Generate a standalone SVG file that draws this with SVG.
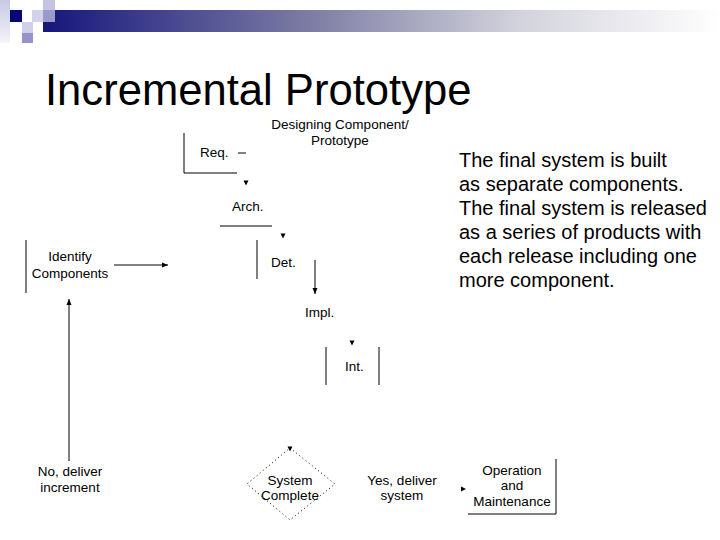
<svg xmlns="http://www.w3.org/2000/svg" width="720" height="540" viewBox="0 0 720 540">
  <defs>
    <linearGradient id="bar" x1="43" y1="0" x2="720" y2="0" gradientUnits="userSpaceOnUse">
      <stop offset="0" stop-color="#16167c"/>
      <stop offset="0.4" stop-color="#7e7ea4"/>
      <stop offset="0.7" stop-color="#d2d2dc"/>
      <stop offset="1" stop-color="#ffffff"/>
    </linearGradient>
    <linearGradient id="col" x1="0" y1="0" x2="0" y2="1">
      <stop offset="0" stop-color="#c8c8e4"/>
      <stop offset="1" stop-color="#f4f4fa"/>
    </linearGradient>
    <marker id="ah" viewBox="0 0 6 6" refX="6" refY="3" markerWidth="6" markerHeight="6" orient="auto" markerUnits="userSpaceOnUse">
      <path d="M0,0.5 L6,3 L0,5.5 Z" fill="#000"/>
    </marker>
    <path id="tri" d="M-2.5,-2.5 L2.5,-2.5 L0,2.5 Z" fill="#000"/>
  </defs>
  <style>
    .t{font-family:"Liberation Sans",Arial,sans-serif;font-size:13.5px;fill:#000}
    .c{text-anchor:middle}
    .ln{stroke:#000;stroke-width:1;fill:none}
    .body{font-family:"Liberation Sans",Arial,sans-serif;font-size:20px;fill:#000}
  </style>
  <rect width="720" height="540" fill="#fff"/>

  <g id="header">
    <rect x="0" y="0" width="10" height="43" fill="url(#col)"/>
    <rect x="43" y="10" width="677" height="22" fill="url(#bar)"/>
    <rect x="43" y="0" width="12" height="10" fill="#c4c4e2"/>
    <rect x="10" y="10" width="12" height="12" fill="#060676"/>
    <rect x="32" y="10" width="11" height="12" fill="#d2d2ec"/>
    <rect x="43" y="10" width="12" height="12" fill="#9a9acc"/>
    <rect x="22" y="22" width="11" height="11" fill="#d0d0ea"/>
    <rect x="22" y="33" width="11" height="10" fill="#9494c8"/>
  </g>

  <g id="title">
    <text x="45" y="105" font-family="Liberation Sans, Arial, sans-serif" font-size="43.6" fill="#000">Incremental Prototype</text>
  </g>

  <g id="description">
    <text class="body" x="459" y="167">The final system is built</text>
    <text class="body" x="459" y="191">as separate components.</text>
    <text class="body" x="459" y="215">The final system is released</text>
    <text class="body" x="459" y="239">as a series of products with</text>
    <text class="body" x="459" y="263">each release including one</text>
    <text class="body" x="459" y="287">more component.</text>
  </g>

  <g id="designing-label">
    <text class="t c" x="340" y="129">Designing Component/</text>
    <text class="t c" x="340" y="145">Prototype</text>
  </g>

  <g id="req">
    <path class="ln" d="M184,133 V173 H237"/>
    <text class="t" x="200" y="157">Req.</text>
    <path class="ln" d="M238,153 H246"/>
  </g>

  <g id="arch">
    <text class="t" x="232" y="211">Arch.</text>
    <path class="ln" d="M220,226 H272"/>
  </g>

  <g id="det">
    <path class="ln" d="M257,240 V279"/>
    <text class="t" x="271" y="267">Det.</text>
  </g>

  <g id="impl">
    <text class="t" x="305" y="317">Impl.</text>
  </g>

  <g id="int">
    <path class="ln" d="M326,347 V385 M379,347 V385"/>
    <text class="t" x="345" y="371">Int.</text>
  </g>

  <g id="identify">
    <path class="ln" d="M26,240 V293"/>
    <text class="t c" x="70" y="261">Identify</text>
    <text class="t c" x="70" y="278">Components</text>
  </g>

  <g id="no-deliver">
    <text class="t c" x="70" y="476">No, deliver</text>
    <text class="t c" x="70" y="492">increment</text>
  </g>

  <g id="system-complete">
    <path d="M290,448 L335,484 L290,520 L247,484 Z" fill="none" stroke="#000" stroke-width="1" stroke-dasharray="1,3"/>
    <text class="t c" x="290" y="485">System</text>
    <text class="t c" x="290" y="500">Complete</text>
  </g>

  <g id="yes-deliver">
    <text class="t c" x="402" y="485">Yes, deliver</text>
    <text class="t c" x="402" y="500">system</text>
  </g>

  <g id="operation">
    <path class="ln" d="M556,459 V514 H468"/>
    <text class="t c" x="512" y="475">Operation</text>
    <text class="t c" x="512" y="490">and</text>
    <text class="t c" x="512" y="506">Maintenance</text>
  </g>

  <g id="connectors">
    <use href="#tri" x="246" y="183"/>
    <use href="#tri" x="283" y="236"/>
    <path class="ln" d="M315,260 V294" marker-end="url(#ah)"/>
    <use href="#tri" x="352" y="343"/>
    <path class="ln" d="M114,265 H168" marker-end="url(#ah)"/>
    <path class="ln" d="M69,461 V299" marker-end="url(#ah)"/>
    <use href="#tri" x="290" y="449"/>
    <path d="M461,486.5 L466,489 L461,491.5 Z" fill="#000"/>
  </g>
</svg>
